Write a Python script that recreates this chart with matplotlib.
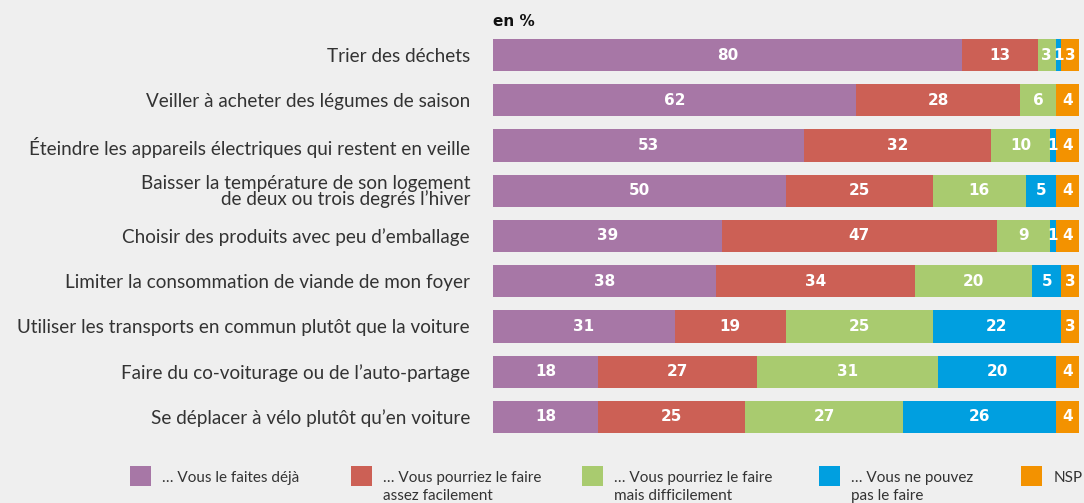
import matplotlib
matplotlib.use("Agg")
import matplotlib.pyplot as plt
from matplotlib.patches import Rectangle
import numpy as np

categories = [
    "Trier des déchets",
    "Veiller à acheter des légumes de saison",
    "Éteindre les appareils électriques qui restent en veille",
    "Baisser la température de son logement\nde deux ou trois degrés l’hiver",
    "Choisir des produits avec peu d’emballage",
    "Limiter la consommation de viande de mon foyer",
    "Utiliser les transports en commun plutôt que la voiture",
    "Faire du co-voiturage ou de l’auto-partage",
    "Se déplacer à vélo plutôt qu’en voiture",
]
deja = [80, 62, 53, 50, 39, 38, 31, 18, 18]
facile = [13, 28, 32, 25, 47, 34, 19, 27, 25]
difficile = [3, 6, 10, 16, 9, 20, 25, 31, 27]
pas = [1, 0, 1, 5, 1, 5, 22, 20, 26]
nsp = [3, 4, 4, 4, 4, 3, 3, 4, 4]
series_names = ["… Vous le faites déjà", "… Vous pourriez le faire\nassez facilement",
                "… Vous pourriez le faire\nmais difficilement", "… Vous ne pouvez\npas le faire", "NSP"]
colors = ["#a777a6", "#cc6055", "#a9cb6f", "#009fe0", "#f39200"]
bg = "#efefef"

W, H = 1084, 503
fig = plt.figure(figsize=(W / 100, H / 100), dpi=100, facecolor=bg)
ax = fig.add_axes([493 / W, 1 - 439.6 / H, 586 / W, (439.6 - 32.4) / H])
ax.set_facecolor(bg)

y = np.arange(len(categories))
left = np.zeros(len(categories))
for vals, col in zip([deja, facile, difficile, pas, nsp], colors):
    vals = np.array(vals, dtype=float)
    ax.barh(y, vals, left=left, height=0.71, color=col, edgecolor="none")
    for yi, l, v in zip(y, left, vals):
        if v > 0:
            ax.text(l + v / 2, yi, f"{int(v)}", ha="center", va="center",
                    color="white", fontsize=11, fontweight="bold", family="DejaVu Sans")
    left += vals

ax.set_xlim(0, 100)
ax.set_ylim(len(categories) - 0.5, -0.5)
ax.set_yticks(y)
ax.set_yticklabels(categories, fontsize=13.6, color="#333333", family="Lato", linespacing=0.92)
ax.tick_params(axis="y", length=0, pad=16.5)
ax.set_xticks([])
for s in ax.spines.values():
    s.set_visible(False)

fig.text(493 / W, 1 - 22 / H, "en %", fontsize=11, fontweight="bold", family="DejaVu Sans",
         color="#111111", ha="left", va="center")

# legend
leg_x = [130, 351, 582, 819, 1021]
txt_x = [162, 383, 614, 851, 1054]
for x, tx, name, col in zip(leg_x, txt_x, series_names, colors):
    fig.patches.append(Rectangle((x / W, 1 - 486 / H), 21 / W, 20 / H, transform=fig.transFigure,
                                 facecolor=col, edgecolor="none"))
    fig.text(tx / W, 1 - 471 / H, name, fontsize=11, family="Lato", color="#333333",
             ha="left", va="top", linespacing=1.4)

fig.savefig("out.png", dpi=100, facecolor=bg)
